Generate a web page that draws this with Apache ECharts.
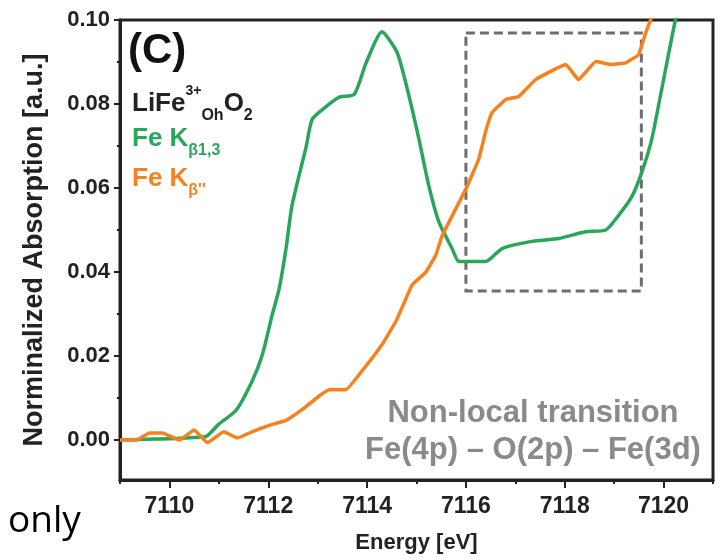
<!DOCTYPE html>
<html>
<head>
<meta charset="utf-8">
<script src="https://cdn.jsdelivr.net/npm/echarts@6/dist/echarts.min.js"></script>
<style>
  html, body { margin: 0; padding: 0; background: #fff; }
  #chart { width: 718px; height: 559px; }
</style>
</head>
<body>
<div id="chart"></div>
<script>
// Fe K-beta1,3 (green)
var greenEnergy = [7109.0, 7109.5, 7110.0, 7110.5, 7110.75, 7111.0, 7111.35, 7111.68, 7111.88, 7112.08,
  7112.22, 7112.36, 7112.48, 7112.77, 7112.89, 7113.17, 7113.43, 7113.74, 7113.98, 7114.3,
  7114.61, 7114.85, 7115.05, 7115.25, 7115.45, 7115.72, 7115.86, 7116.4, 7116.73, 7117.33,
  7117.88, 7118.42, 7118.83, 7119.09, 7119.36, 7119.56, 7119.76, 7119.96, 7120.24, 7120.35];
var greenAbs = [0.0, 0.0002, 0.0003, 0.0006, 0.0009, 0.0038, 0.0071, 0.0142, 0.0203, 0.0298,
  0.036, 0.0456, 0.0558, 0.070, 0.0764, 0.0794, 0.0816, 0.0823, 0.0898, 0.0972,
  0.0922, 0.0818, 0.0716, 0.0605, 0.052, 0.0456, 0.0425, 0.0425, 0.0456, 0.0473,
  0.048, 0.0496, 0.050, 0.0535, 0.058, 0.0638, 0.0716, 0.0834, 0.100, 0.104];

// Fe K-beta'' (orange)
var orangeEnergy = [7109.0, 7109.33, 7109.6, 7109.86, 7110.2, 7110.5, 7110.77, 7111.1, 7111.37, 7111.68,
  7112.02, 7112.36, 7112.69, 7113.03, 7113.23, 7113.57, 7113.9, 7114.3, 7114.59, 7114.91,
  7115.19, 7115.39, 7115.52, 7116.0, 7116.26, 7116.4, 7116.53, 7116.81, 7117.07, 7117.41,
  7118.02, 7118.28, 7118.63, 7118.95, 7119.23, 7119.49, 7119.64, 7119.8];
var orangeAbs = [0.0, 0.0, 0.0017, 0.0017, 0.0, 0.0024, -0.0006, 0.002, 0.0005, 0.002,
  0.0035, 0.0047, 0.0073, 0.0105, 0.012, 0.012, 0.0165, 0.0227, 0.0284, 0.0369,
  0.040, 0.044, 0.0487, 0.0598, 0.0669, 0.0735, 0.078, 0.0811, 0.0818, 0.0858,
  0.0894, 0.0858, 0.0901, 0.0894, 0.0898, 0.0917, 0.097, 0.102];

// ticks
var xMajorTicks = [7110, 7112, 7114, 7116, 7118, 7120];
var xMinorTicks = [7109, 7111, 7113, 7115, 7117, 7119, 7121];
var yMajorTicks = [0, 0.02, 0.04, 0.06, 0.08, 0.10];
var yMinorTicks = [0.01, 0.03, 0.05, 0.07, 0.09];

// dashed box region (energy, absorption)
var boxEnergy = [7116.0, 7119.55];
var boxAbs = [0.0355, 0.0969];

function zip(xs, ys) {
  return xs.map(function (x, i) { return [x, ys[i]]; });
}

var FONT = '"Liberation Sans", Arial, sans-serif';
var GREEN = '#2aa65a';
var ORANGE = '#f7811f';
var INK = '#222';

function legendText(top, text, color) {
  return {
    type: 'text', left: 132, top: top,
    style: {
      text: text,
      rich: {
        m: { fontFamily: FONT, fontWeight: 'bold', fontSize: 26, fill: color, color: color, lineHeight: 40, verticalAlign: 'middle' },
        sup: { fontFamily: FONT, fontWeight: 'bold', fontSize: 14, fill: color, color: color, verticalAlign: 'top' },
        sub: { fontFamily: FONT, fontWeight: 'bold', fontSize: 16, fill: color, color: color, verticalAlign: 'bottom' }
      }
    }
  };
}

var chart = echarts.init(document.getElementById('chart'));

var option = {
  animation: false,
  backgroundColor: '#fff',
  grid: {
    left: 120, right: 5, top: 20, bottom: 76,
    show: true, borderColor: INK, borderWidth: 3
  },
  xAxis: [{
    type: 'value', min: 7109, max: 7121,
    name: 'Energy [eV]', nameLocation: 'middle', nameGap: 52,
    nameTextStyle: { fontFamily: FONT, fontWeight: 'bold', fontSize: 22, color: INK },
    axisLine: { onZero: false, lineStyle: { color: INK, width: 3 } },
    axisTick: { customValues: xMajorTicks, length: 8, lineStyle: { color: INK, width: 2 } },
    axisLabel: {
      customValues: xMajorTicks, fontFamily: FONT, fontWeight: 'bold', fontSize: 23, color: INK, margin: 15,
      formatter: function (v) { return String(v); }
    },
    splitLine: { show: false }
  }, {
    type: 'value', min: 7109, max: 7121, position: 'bottom',
    axisLine: { show: false, onZero: false },
    axisTick: { customValues: xMinorTicks, length: 4, lineStyle: { color: INK, width: 2 } },
    axisLabel: { show: false },
    splitLine: { show: false }
  }],
  yAxis: [{
    type: 'value', min: -0.0095, max: 0.10,
    name: 'Norminalized Absorption [a.u.]', nameLocation: 'middle', nameGap: 72, nameRotate: 90,
    nameTextStyle: { fontFamily: FONT, fontWeight: 'bold', fontSize: 27, color: INK },
    axisLine: { onZero: false, lineStyle: { color: INK, width: 3 } },
    axisTick: { customValues: yMajorTicks, length: 6, lineStyle: { color: INK, width: 2 } },
    axisLabel: {
      customValues: yMajorTicks, fontFamily: FONT, fontWeight: 'bold', fontSize: 22, color: INK, margin: 10,
      formatter: function (v) { return v.toFixed(2); }
    },
    splitLine: { show: false }
  }, {
    type: 'value', min: -0.0095, max: 0.10, position: 'left',
    axisLine: { show: false, onZero: false },
    axisTick: { customValues: yMinorTicks, length: 3, lineStyle: { color: INK, width: 2 } },
    axisLabel: { show: false },
    splitLine: { show: false }
  }],
  series: [{
    name: 'Fe Kβ1,3', type: 'line', data: zip(greenEnergy, greenAbs),
    showSymbol: false, smooth: 0.2, lineStyle: { color: GREEN, width: 3.5 }, z: 3,
    markArea: {
      silent: true,
      itemStyle: { color: 'rgba(0,0,0,0)', borderColor: '#6e6e6e', borderWidth: 3, borderType: [9, 5] },
      label: { show: false },
      data: [[{ coord: [boxEnergy[0], boxAbs[1]] }, { coord: [boxEnergy[1], boxAbs[0]] }]]
    }
  }, {
    name: "Fe Kβ''", type: 'line', data: zip(orangeEnergy, orangeAbs),
    showSymbol: false, smooth: 0.1, lineStyle: { color: ORANGE, width: 3.5 }, z: 4
  }],
  graphic: [
    { type: 'text', left: 128, top: 30, style: { text: '(C)', fontFamily: FONT, fontWeight: 'bold', fontSize: 42, fill: '#111' } },
    legendText(84, '{m|LiFe}{sup|3+}{sub|Oh}{m|O}{sub|2}', INK),
    legendText(126, '{m|Fe K}{sub|β1,3}', GREEN),
    legendText(166, "{m|Fe K}{sub|β''}", ORANGE),
    {
      type: 'text', x: 533, y: 413,
      style: { text: 'Non-local transition', fontFamily: FONT, fontWeight: 'bold', fontSize: 31, fill: '#8a8a8a', textAlign: 'center', textVerticalAlign: 'middle' }
    },
    {
      type: 'text', x: 533, y: 450,
      style: { text: 'Fe(4p) – O(2p) – Fe(3d)', fontFamily: FONT, fontWeight: 'bold', fontSize: 31, fill: '#8a8a8a', textAlign: 'center', textVerticalAlign: 'middle' }
    },
    { type: 'text', left: 8, top: 503, style: { text: 'only', fontFamily: '"Open Sans", sans-serif', fontSize: 37, fill: '#000' } }
  ]
};

chart.setOption(option);
</script>
</body>
</html>
